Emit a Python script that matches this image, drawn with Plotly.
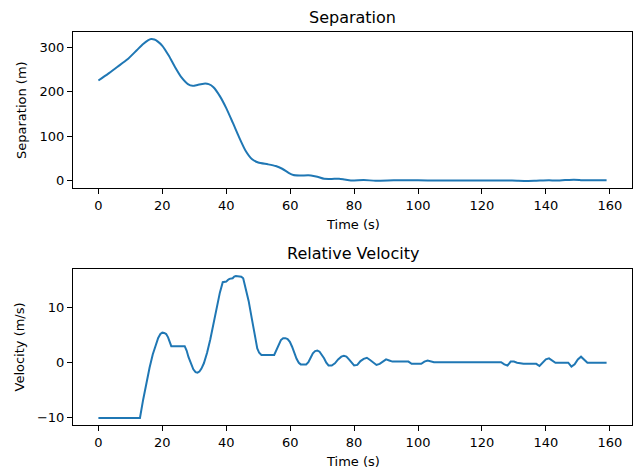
import plotly.graph_objects as go

# ---- data ----
sep_t = [0, 3, 6, 9, 12, 14, 15.5, 16.5, 17.5, 18.5, 20, 22, 24, 26, 28, 29.5, 31, 33, 34.5,
         36, 38, 40, 42, 44, 46, 48, 50, 53, 55.5, 57.5, 59.5, 61, 63, 66.5, 68.5, 70.6, 73,
         75.3, 77, 79, 83, 86.7, 92.4, 96, 100, 106, 112, 120, 128, 131, 134.2, 137, 141,
         143, 146, 148.75, 150.5, 151.9, 155, 159]
sep_v = [225, 240, 256, 272, 293, 307, 315, 318, 317, 313, 303, 281, 255, 232, 217, 213, 215,
         218, 217, 210, 190, 163, 131, 98, 68, 49, 41, 37, 33, 27, 18, 13, 12, 12, 9, 4.5,
         4.2, 4.5, 2.8, 0.7, 1.5, 0.3, 1, 1, 1, 0.5, 0.7, 0.7, 0.7, 0.2, -0.3, 0.2, 1,
         0.5, 1.5, 2.2, 1.6, 1, 1, 1]

vel_t = [0, 13, 14, 15, 16, 17, 18, 18.7, 19.4, 20, 20.6, 21.2, 21.8, 22.3, 22.8, 27, 27.6,
         28.2, 29, 29.7, 30.4, 31, 31.6, 32.2, 33, 34, 35, 36, 37, 38, 38.9, 40, 40.5, 41, 42,
         42.5, 43, 44, 44.7, 45.3, 46, 47, 48, 49, 49.7, 50.3, 51, 55, 55.7, 56.4, 57.1, 57.8,
         58.5, 59.2, 59.9, 60.6, 61.3, 62, 62.7, 63.3, 65, 65.7, 66.4, 67.1, 67.8, 68.5, 69.2,
         69.9, 70.6, 71.3, 72, 73, 74, 75, 76, 76.8, 77.6, 78.4, 79.2, 80, 81, 82, 83, 84, 85,
         86, 87, 88, 89, 90, 91, 92, 97, 98, 101, 102, 103, 105, 126, 127, 128, 129, 130,
         131, 133, 137, 138, 139, 140, 141, 142, 143, 147, 148, 149, 150, 151, 152, 153, 159]
vel_v = [-10, -10, -6.7, -3.5, -0.9, 1.5, 3.4, 4.5, 5.2, 5.45, 5.4, 5.2, 4.6, 3.6, 3.0, 3.0,
         2.2, 1.0, -0.3, -1.2, -1.7, -1.8, -1.6, -1.1, -0.1, 1.8, 4.2, 7.0, 10.0, 12.7, 14.6,
         14.7, 15.0, 15.2, 15.3, 15.6, 15.7, 15.7, 15.6, 15.3, 13.8, 11.2, 8.0, 4.5, 2.6, 1.8,
         1.4, 1.4, 2.2, 3.3, 4.1, 4.45, 4.45, 4.3, 3.8, 2.9, 1.8, 0.7, 0.0, -0.3, -0.3, 0.1,
         0.9, 1.7, 2.1, 2.2, 2.0, 1.5, 0.8, 0.0, -0.5, -0.5, -0.1, 0.6, 1.1, 1.25, 1.1, 0.6,
         0.0, -0.5, -0.4, 0.3, 0.7, 0.9, 0.5, 0.0, -0.4, -0.2, 0.2, 0.6, 0.4, 0.2, 0.2, -0.2,
         -0.2, 0.2, 0.4, 0.1, 0.1, -0.3, -0.5, 0.2, 0.2, 0.0, -0.2, -0.2, -0.6, 0.0, 0.6, 0.8,
         0.4, 0.0, 0.0, -0.7, -0.3, 0.6, 1.1, 0.6, 0.0, 0.0]

x_ticks = [0, 20, 40, 60, 80, 100, 120, 140, 160]
sep_ticks = [0, 100, 200, 300]
vel_ticks = [-10, 0, 10]

titles = ["Separation", "Relative Velocity"]
x_label = "Time (s)"
y_labels = ["Separation (m)", "Velocity (m/s)"]

# ---- layout geometry ----
W, H = 636, 472
FONT = "DejaVu Sans"
LINE = "#1f77b4"


def pad_range(vals, frac=0.05):
    lo, hi = min(vals), max(vals)
    s = hi - lo
    return [lo - frac * s, hi + frac * s]


def py(p):
    return 1 - p / H


fig = go.Figure()
fig.add_trace(go.Scatter(x=sep_t, y=sep_v, mode="lines",
                         line=dict(color=LINE, width=2, shape="spline", smoothing=0.6),
                         xaxis="x", yaxis="y", showlegend=False, hoverinfo="skip"))
fig.add_trace(go.Scatter(x=vel_t, y=vel_v, mode="lines",
                         line=dict(color=LINE, width=2),
                         xaxis="x2", yaxis="y2", showlegend=False, hoverinfo="skip"))

common = dict(showline=True, linecolor="black", linewidth=1, mirror=True, ticks="outside",
              ticklen=5, tickwidth=1, tickcolor="black", showgrid=False, zeroline=False,
              tickfont=dict(family=FONT, size=13, color="black"))

xdom = [73 / W, 632 / W]
fig.update_layout(
    width=W, height=H, margin=dict(l=0, r=0, t=0, b=0),
    paper_bgcolor="white", plot_bgcolor="white",
    xaxis=dict(domain=xdom, range=pad_range(sep_t), tickvals=x_ticks, anchor="y", **common),
    yaxis=dict(domain=[py(188), py(32)], range=pad_range(sep_v), tickvals=sep_ticks, anchor="x", **common),
    xaxis2=dict(domain=xdom, range=pad_range(vel_t), tickvals=x_ticks, anchor="y2", **common),
    yaxis2=dict(domain=[py(425), py(269)], range=pad_range(vel_v), tickvals=vel_ticks, anchor="x2", **common),
)

ann = []
cx = (73 + 632) / 2 / W
for txt, ypix in zip(titles, [17, 253]):
    ann.append(dict(text=txt, x=cx, y=py(ypix), xref="paper", yref="paper", showarrow=False,
                    xanchor="center", yanchor="middle", font=dict(family=FONT, size=16, color="black")))
for ypix in [225, 461]:
    ann.append(dict(text=x_label, x=cx, y=py(ypix), xref="paper", yref="paper", showarrow=False,
                    xanchor="center", yanchor="middle", font=dict(family=FONT, size=13, color="black")))
for txt, xpix, ypix in zip(y_labels, [21, 18.5], [110, 347]):
    ann.append(dict(text=txt, x=xpix / W, y=py(ypix), xref="paper", yref="paper", showarrow=False,
                    textangle=-90, xanchor="center", yanchor="middle",
                    font=dict(family=FONT, size=13, color="black")))
fig.update_layout(annotations=ann)

fig.write_html("out.html", config={"displayModeBar": False},
               post_script="document.body.style.margin='0';document.body.style.padding='0';")
